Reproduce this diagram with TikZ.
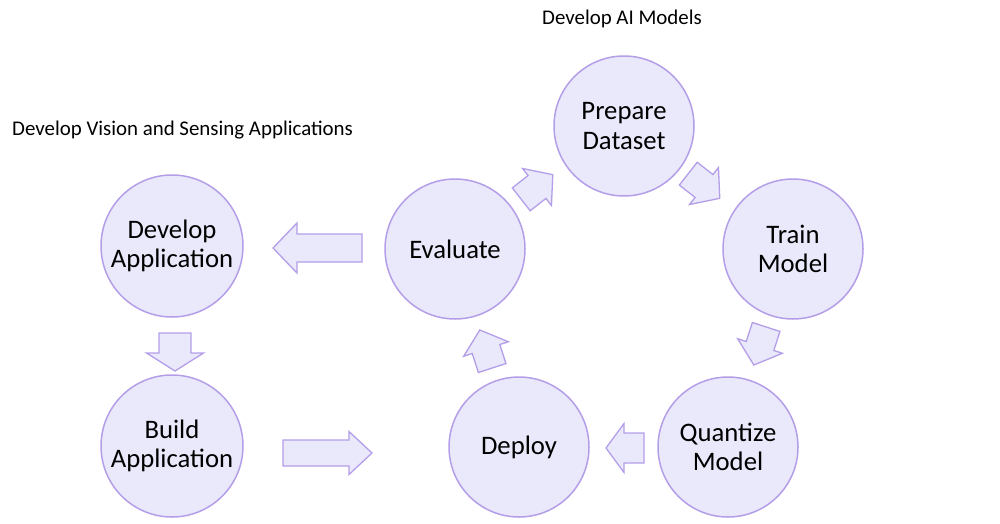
\documentclass[tikz,border=0pt]{standalone}
\usepackage{fontspec}
\setmainfont{Carlito}
\definecolor{cfill}{RGB}{233,233,251}
\definecolor{cline}{RGB}{180,158,232}
\newcommand\blockarrow[8]{% name, cx, cy, angle, L, shaft, head, headlen
  \begin{scope}[shift={(#2,#3)},rotate=#4]
    \path[arrowshape] (-#5/2,-#6/2) -- (#5/2-#8,-#6/2) -- (#5/2-#8,-#7/2) -- (#5/2,0)
      -- (#5/2-#8,#7/2) -- (#5/2-#8,#6/2) -- (-#5/2,#6/2) -- cycle;
    \coordinate (#1) at (0,0);
  \end{scope}}
\begin{document}
\begin{tikzpicture}[x=1pt,y=-1pt,
  stage/.style={circle,draw=cline,fill=cfill,line width=1.5pt,minimum size=140pt,inner sep=0pt,
     align=center,font=\fontsize{26.7}{29.5}\selectfont},
  arrowshape/.style={draw=cline,fill=cfill,line width=1.3pt,line join=miter},
  heading/.style={font=\fontsize{20.9}{24}\selectfont,inner sep=0pt}]
\useasboundingbox (0,0) rectangle (1000,524);
\node[heading] (hAI) at (622,19) {Develop AI Models};
\node[heading,anchor=west] (hVS) at (12,130) {Develop Vision and Sensing Applications};

\node[stage,minimum size=142pt] (devapp) at (172,246) {Develop\\Application};
\node[stage,minimum size=142pt] (buildapp) at (172,446) {Build\\Application};
\node[stage] (eval) at (455,249) {Evaluate};
\node[stage] (prep) at (624,126) {Prepare\\Dataset};
\node[stage] (train) at (793,249) {Train\\Model};
\node[stage] (quant) at (728,447) {Quantize\\Model};
\node[stage] (deploy) at (519,447) {Deploy};

\blockarrow{aEvalDev}{317.5}{248}{180}{89}{28}{50}{24}
\blockarrow{aDevBuild}{175}{352}{-90}{38}{32}{57}{18}
\blockarrow{aBuildDep}{327.5}{453}{0}{89}{26}{43}{23}
\blockarrow{aQuantDep}{625}{448}{180}{38}{30}{49}{18}
\blockarrow{aEvalPrep}{537}{187}{38}{40}{29}{47}{20}
\blockarrow{aPrepTrain}{704}{186}{-38}{40}{29}{47}{20}
\blockarrow{aTrainQuant}{760}{346}{-108}{40}{29}{47}{20}
\blockarrow{aDepEval}{486}{349}{108}{40}{29}{47}{20}
\end{tikzpicture}
\end{document}
